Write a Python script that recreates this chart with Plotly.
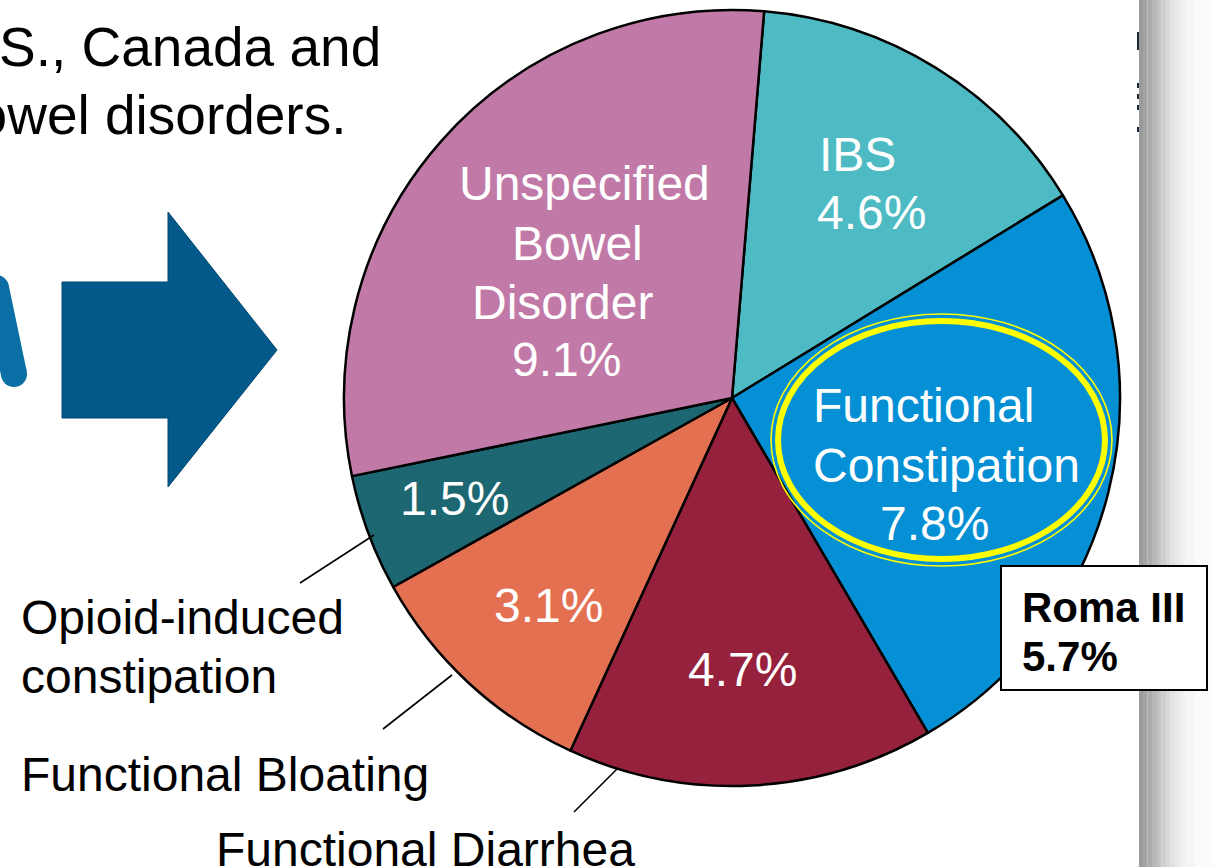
import plotly.graph_objects as go

# ---------------- data ----------------
categories = ["IBS", "Functional Constipation", "Functional Diarrhea",
              "Functional Bloating", "Opioid-induced constipation",
              "Unspecified Bowel Disorder"]
values = [4.6, 7.8, 4.7, 3.1, 1.5, 9.1]
slice_colors = ["#4EBBC4", "#058FD4", "#95213C", "#E47052", "#1D6773", "#C17AA7"]

inner_name_lines = {
    "IBS": ["IBS"],
    "Functional Constipation": ["Functional", "Constipation"],
    "Unspecified Bowel Disorder": ["Unspecified", "Bowel", "Disorder"],
}
outside_label_lines = {
    "Opioid-induced constipation": ["Opioid-induced", "constipation"],
    "Functional Bloating": ["Functional Bloating"],
    "Functional Diarrhea": ["Functional Diarrhea"],
}
roma_label = "Roma III"
roma_value = 5.7
header_lines = ["U.S., Canada and", "bowel disorders."]

# ---------------- geometry helpers ----------------
W, H = 1212, 867
def px(x):
    return x / W
def py(y):
    return 1 - y / H

CX, CY, R = 732, 398, 388
FONT = "Liberation Sans, Arial, sans-serif"

fig = go.Figure()
fig.add_trace(go.Pie(
    labels=categories, values=values, sort=False, direction="clockwise",
    rotation=4.75, textinfo="none", hoverinfo="skip",
    marker=dict(colors=slice_colors, line=dict(color="#000000", width=2.5)),
    domain=dict(x=[px(CX - R), px(CX + R)], y=[py(CY + R), py(CY - R)]),
    showlegend=False,
))

shapes = []
ann = []

def text(s, x, y, size=48, color="white", anchor="center", bold=False):
    if bold:
        s = "<b>" + s + "</b>"
    ann.append(dict(text=s, x=px(x), y=py(y), xref="paper", yref="paper",
                    xanchor=anchor, yanchor="middle", showarrow=False,
                    font=dict(family=FONT, size=size, color=color)))

def pct(v):
    return f"{v}%"

val = dict(zip(categories, values))

# inner labels
text(inner_name_lines["IBS"][0], 817, 154.5, anchor="left")
text(pct(val["IBS"]), 815, 212.5, anchor="left")

text(inner_name_lines["Functional Constipation"][0], 811, 405, anchor="left")
text(inner_name_lines["Functional Constipation"][1], 811, 465, anchor="left")
text(pct(val["Functional Constipation"]), 934, 523)

text(pct(val["Functional Diarrhea"]), 742, 669)
text(pct(val["Functional Bloating"]), 548, 605)
text(pct(val["Opioid-induced constipation"]), 454, 498)

ubd = inner_name_lines["Unspecified Bowel Disorder"]
text(ubd[0], 584, 183.5)
text(ubd[1], 577, 243)
text(ubd[2], 562, 302)
text(pct(val["Unspecified Bowel Disorder"]), 566, 360)

# outside labels
o = outside_label_lines["Opioid-induced constipation"]
text(o[0], 19, 617, color="black", anchor="left")
text(o[1], 19, 676, color="black", anchor="left")
text(outside_label_lines["Functional Bloating"][0], 19, 774, color="black", anchor="left")
text(outside_label_lines["Functional Diarrhea"][0], 214, 849, color="black", anchor="left")

# header (cropped slide text)
text(header_lines[0], 383, 47, size=55, color="black", anchor="right")
text(header_lines[1], 348, 115, size=55, color="black", anchor="right")

# leader lines
for (x0, y0, x1, y1) in [(300, 583, 374, 535), (383, 729, 452, 675), (574, 812, 617, 769)]:
    shapes.append(dict(type="line", xref="paper", yref="paper",
                       x0=px(x0), y0=py(y0), x1=px(x1), y1=py(y1),
                       line=dict(color="black", width=1.6), layer="above"))

# yellow double ellipse
shapes.append(dict(type="circle", xref="paper", yref="paper",
                   x0=px(771), x1=px(1112), y0=py(314), y1=py(566),
                   line=dict(color="#FFFF00", width=1.6), layer="above"))
shapes.append(dict(type="circle", xref="paper", yref="paper",
                   x0=px(778), x1=px(1105), y0=py(321), y1=py(559),
                   line=dict(color="#FFFF00", width=6), layer="above"))

# big arrow
pts = [(62, 282), (168, 282), (168, 212), (277, 350), (168, 487), (168, 418), (62, 418)]
path = "M " + " L ".join(f"{px(x)} {py(y)}" for x, y in pts) + " Z"
shapes.append(dict(type="path", xref="paper", yref="paper", path=path,
                   fillcolor="#02598A", line=dict(color="#01466d", width=1), layer="below"))

# partial blue stroke at far left
shapes.append(dict(type="line", xref="paper", yref="paper",
                   x0=px(-4), y0=py(288), x1=px(14), y1=py(374),
                   line=dict(color="#0B6FA6", width=26), layer="below"))
for (cx, cy) in [(-4, 288), (14, 374)]:
    shapes.append(dict(type="circle", xref="paper", yref="paper",
                       x0=px(cx - 13), x1=px(cx + 13), y0=py(cy + 13), y1=py(cy - 13),
                       fillcolor="#0B6FA6", line=dict(width=0), layer="below"))

# grey gradient bar on right
bar_greys = ["#9a9a9a", "#a3a3a3", "#adadad", "#b8b8b8", "#c3c3c3", "#cecece",
             "#d8d8d8", "#e2e2e2", "#eaeaea", "#f0f0f0", "#f6f6f6", "#fbfbfb"]
edges = [1139, 1143, 1147.5, 1152, 1157, 1161.5, 1166, 1170.5, 1175, 1180, 1185, 1195, 1212]
for i, g in enumerate(bar_greys):
    shapes.append(dict(type="rect", xref="paper", yref="paper",
                       x0=px(edges[i]), x1=px(edges[i + 1]), y0=0, y1=1,
                       fillcolor=g, line=dict(width=0), layer="below"))
# small marks at bar edge
for (y0, y1) in [(32, 50), (83, 88), (94, 99), (105, 110), (127, 132)]:
    shapes.append(dict(type="rect", xref="paper", yref="paper",
                       x0=px(1137), x1=px(1139), y0=py(y1), y1=py(y0),
                       fillcolor="#1a2a3a", line=dict(width=0), layer="below"))

# Roma III box
shapes.append(dict(type="rect", xref="paper", yref="paper",
                   x0=px(1001), x1=px(1207), y0=py(690), y1=py(566),
                   fillcolor="white", line=dict(color="black", width=2), layer="above"))
text(roma_label, 1020, 607, size=42, color="black", anchor="left", bold=True)
text(pct(roma_value), 1020, 656, size=42, color="black", anchor="left", bold=True)

fig.update_layout(
    width=W, height=H, margin=dict(l=0, r=0, t=0, b=0),
    paper_bgcolor="white", plot_bgcolor="white",
    shapes=shapes, annotations=ann, showlegend=False,
)

fig.write_html(
    "out.html",
    config={"displayModeBar": False},
    post_script="document.body.style.margin='0';document.body.style.overflow='hidden';",
)
